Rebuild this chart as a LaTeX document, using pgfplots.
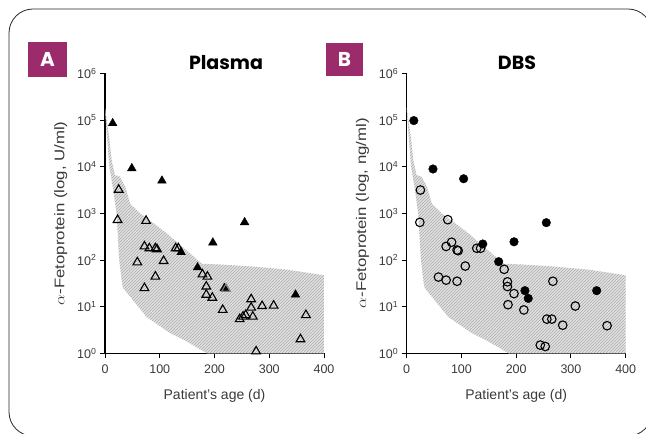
\documentclass[border=0pt]{standalone}
\usepackage{fontspec}
\setmainfont{Liberation Sans}
\newfontfamily\titlefont{Poppins}
\usepackage{pgfplots}
\usepackage{pgfplotstable}
\pgfplotsset{compat=1.18}
\usetikzlibrary{patterns}

\definecolor{tag}{HTML}{9C2B6C}
\definecolor{txt}{HTML}{3A3A3A}
\definecolor{shade}{HTML}{E2E2E2}
\definecolor{hatch}{HTML}{ABABAB}

% normal range band, shared by both panels
\pgfplotstableread{
d   v
0   1.8e5
8   4e4
12  1.4e4
18  6600
27  6100
37  3700
46  1600
64  1000
88  620
113 370
149 160
177 83
210 80
271 72
332 62
400 47
400 1
186 1
149 1.8
119 2.7
76  6
33  25
31  32
26  100
21  1000
15  3200
8   1e4
2   8e4
0   1.8e5
}\bandtab

\pgfplotsset{
  every axis/.append style={
    scale only axis, width=219pt, height=280pt, anchor=south west,
    xmin=0, xmax=400, ymin=1, ymax=1e6,
    axis lines=left, axis line style={black, line width=1.1pt, -},
    tick align=outside, major tick length=5pt,
    tick style={black, line width=0.9pt},
    xtick={0,100,200,300,400},
    ticklabel style={font=\fontsize{12.5}{14}\selectfont, text=txt},
    xticklabel shift=3pt,
    label style={font=\fontsize{14}{16}\selectfont, text=txt},
    xlabel shift=9pt, ylabel shift=3pt,
    clip=false,
  },
}

\begin{document}
\begin{tikzpicture}
\path[use as bounding box] (0pt,0pt) rectangle (646pt,434pt);
\clip (0pt,0pt) rectangle (646pt,434pt);
\draw[black!85, line width=0.8pt, rounded corners=24pt] (9pt,-2pt) rectangle (652pt,425pt);

% panel tags and titles
\fill[tag] (28pt,357pt) rectangle (67pt,392pt);
\node[text=white, font=\titlefont\bfseries\fontsize{20}{22}\selectfont] at (47.5pt,374.5pt) {A};
\fill[tag] (326pt,358pt) rectangle (363pt,391pt);
\node[text=white, font=\titlefont\bfseries\fontsize{20}{22}\selectfont] at (344.5pt,374.5pt) {B};
\node[font=\titlefont\bfseries\fontsize{19}{22}\selectfont] at (226pt,371pt) {Plasma};
\node[font=\titlefont\bfseries\fontsize{19}{22}\selectfont] at (517pt,371pt) {DBS};

\begin{semilogyaxis}[at={(105pt,80.7pt)},
  yminorticks=false,
  ytick={1,10,100,1000,10000,100000,1000000},
  yticklabels={10\textsuperscript{0},10\textsuperscript{1},10\textsuperscript{2},10\textsuperscript{3},10\textsuperscript{4},10\textsuperscript{5},10\textsuperscript{6}},
  xlabel={Patient's age (d)},
  ylabel={\scalebox{1.2}[1]{$\alpha$-Fetoprotein (log, U/ml)}},
  /pgf/number format/assume math mode=true]
\addplot[draw=none, fill=shade, forget plot] table[x=d, y=v] {\bandtab};
\addplot[draw=none, pattern=north east lines, pattern color=hatch, forget plot] table[x=d, y=v] {\bandtab};
% filled: outside range
\addplot[only marks, mark=triangle*, mark size=5pt, black] coordinates {
  (14,85000) (49,9200) (104,5000) (255,640) (197,235) (139,146)
  (169,69) (218,25) (348,18)
};
% open: inside range
\addplot[only marks, mark=triangle, mark size=5pt, black, line width=1.1pt] coordinates {
  (25,3200) (23,720) (75,690) (72,195) (81,178) (92,178) (95,170)
  (129,178) (134,178) (59,89) (107,95) (92,44) (72,25) (178,49)
  (187,44) (185,27) (185,18) (196,15.5) (215,8.5) (267,14.4)
  (267,9.5) (287,10.3) (308,10.5) (270,6.1) (257,6.6) (252,6.1)
  (246,5.4) (367,6.6) (357,2.0) (276,1.1)
};
\addplot[only marks, mark=triangle, mark size=5pt, gray, line width=1.1pt] coordinates {(221,24)};
\end{semilogyaxis}

\begin{semilogyaxis}[at={(406.7pt,80.7pt)},
  yminorticks=false,
  ytick={1,10,100,1000,10000,100000,1000000},
  yticklabels={10\textsuperscript{0},10\textsuperscript{1},10\textsuperscript{2},10\textsuperscript{3},10\textsuperscript{4},10\textsuperscript{5},10\textsuperscript{6}},
  xlabel={Patient's age (d)},
  ylabel={\scalebox{1.2}[1]{$\alpha$-Fetoprotein (log, ng/ml)}},
  /pgf/number format/assume math mode=true]
\addplot[draw=none, fill=shade, forget plot] table[x=d, y=v] {\bandtab};
\addplot[draw=none, pattern=north east lines, pattern color=hatch, forget plot] table[x=d, y=v] {\bandtab};
\addplot[only marks, mark=*, mark size=4.3pt, black] coordinates {
  (13,97000) (48,8900) (104,5500) (255,630) (196,245) (139,220)
  (168,92) (216,22) (222,15) (347,22)
};
\addplot[only marks, mark=o, mark size=4.3pt, black, line width=1.1pt] coordinates {
  (25,3150) (24,640) (75,730) (82,240) (72,195) (92,163) (94,158)
  (128,178) (135,178) (107,74) (58,43) (72,37) (92,35) (178,63)
  (184,34) (184,27) (196,19) (185,11) (214,8.5) (267,35) (308,10.3)
  (256,5.4) (265,5.4) (285,4.0) (366,3.9) (244,1.5) (253,1.4)
};
\end{semilogyaxis}
\end{tikzpicture}
\end{document}
